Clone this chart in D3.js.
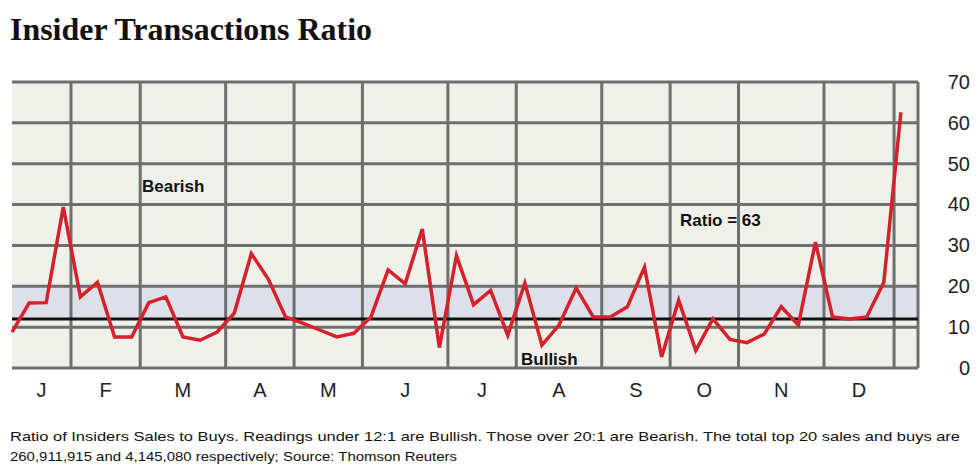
<!DOCTYPE html>
<meta charset="utf-8">
<style>
body { margin: 0; background: #fff; }
.grid line { stroke: #6e6e6e; stroke-width: 3; }
.axis text { font-family: "Liberation Sans", Arial, sans-serif; font-size: 20px; fill: #222; }
.note { font-family: "Liberation Sans", Arial, sans-serif; font-size: 13px; fill: #111; }
.lbl { font-family: "Liberation Sans", Arial, sans-serif; font-size: 17px; font-weight: bold; fill: #111; }
</style>
<svg width="979" height="472"></svg>
<script src="https://d3js.org/d3.v7.min.js"></script>
<script>

// weekly ratio readings
var ratios = [8.8, 15.9, 16, 39.4, 17.4, 21, 7.6, 7.6, 16, 17.4, 7.6, 6.8, 8.8, 13.4, 28, 21.7,
    12.5, 11, 9.3, 7.6, 8.5, 12.5, 24, 20.6, 34, 5, 27.5, 15.5, 19, 8, 20.8, 5.6, 10.5, 19.6,
    12.5, 12.5, 15, 24.7, 2.7, 16.6, 4.3, 12, 7, 6.2, 8.3, 15, 10.5, 30.8, 12.5, 12, 12.5, 21, 62.6];
// month boundaries in week units
var monthEdges = [0, 3.45, 7.5, 12.5, 16.5, 20.5, 25.5, 29.5, 34.5, 38.5, 42.5, 47.5, 51.6, 53];
var months = ["J", "F", "M", "A", "M", "J", "J", "A", "S", "O", "N", "D"];
var yTicks = [0, 10, 20, 30, 40, 50, 60, 70];
var bullishLevel = 12, bearishLevel = 20;

var svg = d3.select("svg");
var x = d3.scaleLinear().domain([0, 53]).range([12, 918]);
var y = d3.scaleLinear().domain([0, 70]).range([368, 82]);

svg.append("text").attr("x", 10).attr("y", 40)
    .attr("font-family", "'Liberation Serif', 'DejaVu Serif', serif").attr("font-weight", "bold")
    .attr("font-size", "32px").attr("textLength", 362).attr("lengthAdjust", "spacingAndGlyphs")
    .attr("fill", "#111").text("Insider Transactions Ratio");

// plot background and neutral band
svg.append("rect").attr("x", x(0)).attr("y", y(70)).attr("width", x(53) - x(0))
    .attr("height", y(0) - y(70)).attr("fill", "#f0f0ea");
svg.append("rect").attr("x", x(0)).attr("y", y(bearishLevel)).attr("width", x(53) - x(0))
    .attr("height", y(bullishLevel) - y(bearishLevel)).attr("fill", "#dde0e8");

var grid = svg.append("g").attr("class", "grid");
grid.selectAll(".h").data(yTicks).enter().append("line")
    .attr("x1", x(0)).attr("x2", x(53)).attr("y1", d => y(d)).attr("y2", d => y(d));
grid.selectAll(".v").data(monthEdges.slice(1)).enter().append("line")
    .attr("x1", d => x(d)).attr("x2", d => x(d)).attr("y1", y(70)).attr("y2", y(0));

svg.append("line").attr("x1", x(0)).attr("x2", x(53))
    .attr("y1", y(bullishLevel)).attr("y2", y(bullishLevel))
    .attr("stroke", "#111").attr("stroke-width", 3);

var yAxis = svg.append("g").attr("class", "axis")
    .attr("transform", "translate(970,0)")
    .call(d3.axisLeft(y).tickValues(yTicks).tickSize(0).tickPadding(0));
yAxis.select(".domain").remove();

svg.append("g").attr("class", "axis").selectAll("text").data(months).enter().append("text")
    .attr("x", (d, i) => x((monthEdges[i] + monthEdges[i + 1]) / 2))
    .attr("y", 397).attr("text-anchor", "middle").text(d => d);

svg.append("path").datum(ratios)
    .attr("fill", "none").attr("stroke", "#d8202a").attr("stroke-width", 3.5)
    .attr("stroke-linejoin", "miter")
    .attr("d", d3.line().x((d, i) => x(i)).y(d => y(d)));

svg.append("text").attr("class", "lbl").attr("x", 142).attr("y", 192).text("Bearish");
svg.append("text").attr("class", "lbl").attr("x", 521).attr("y", 365).text("Bullish");
svg.append("text").attr("class", "lbl").attr("x", 680).attr("y", 226).text("Ratio = 63");

svg.append("text").attr("class", "note").attr("x", 10).attr("y", 441)
    .attr("textLength", 950).attr("lengthAdjust", "spacingAndGlyphs")
    .text("Ratio of Insiders Sales to Buys. Readings under 12:1 are Bullish. Those over 20:1 are Bearish. The total top 20 sales and buys are");
svg.append("text").attr("class", "note").attr("x", 10).attr("y", 461)
    .attr("textLength", 447).attr("lengthAdjust", "spacingAndGlyphs")
    .text("260,911,915 and 4,145,080 respectively; Source: Thomson Reuters");

</script>
